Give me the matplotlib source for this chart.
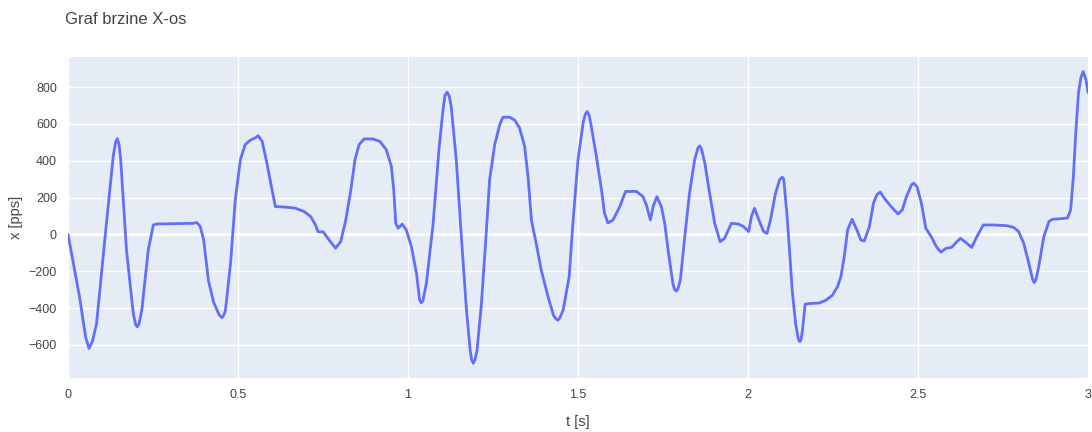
import matplotlib
matplotlib.use("Agg")
from matplotlib import pyplot as plt

plt.rcParams['font.family'] = ['Liberation Sans', 'DejaVu Sans']

# velocity samples (t in s, x in pps)
t = [0.000, 0.034, 0.052, 0.062, 0.072, 0.084, 0.113, 0.133, 0.140, 0.145,
     0.150, 0.155, 0.172, 0.192, 0.199, 0.204, 0.209, 0.217, 0.236, 0.251,
     0.261, 0.369, 0.379, 0.389, 0.399, 0.413, 0.428, 0.443, 0.448, 0.453,
     0.458, 0.463, 0.478, 0.492, 0.507, 0.521, 0.536, 0.551, 0.559, 0.571,
     0.585, 0.600, 0.610, 0.645, 0.669, 0.694, 0.714, 0.728, 0.735, 0.751,
     0.768, 0.787, 0.802, 0.817, 0.832, 0.844, 0.856, 0.871, 0.897, 0.917,
     0.936, 0.951, 0.958, 0.964, 0.971, 0.983, 0.995, 1.010, 1.025, 1.034,
     1.039, 1.044, 1.054, 1.074, 1.091, 1.103, 1.109, 1.115, 1.121, 1.127,
     1.142, 1.157, 1.172, 1.183, 1.187, 1.192, 1.197, 1.203, 1.216, 1.230,
     1.240, 1.255, 1.270, 1.279, 1.299, 1.314, 1.328, 1.343, 1.353, 1.363,
     1.377, 1.392, 1.412, 1.428, 1.436, 1.441, 1.446, 1.456, 1.474, 1.485,
     1.500, 1.515, 1.521, 1.527, 1.533, 1.539, 1.554, 1.569, 1.578, 1.588,
     1.603, 1.623, 1.640, 1.672, 1.691, 1.701, 1.713, 1.721, 1.732, 1.745,
     1.755, 1.765, 1.779, 1.784, 1.789, 1.794, 1.801, 1.814, 1.828, 1.843,
     1.853, 1.858, 1.863, 1.873, 1.887, 1.902, 1.918, 1.931, 1.951, 1.972,
     1.987, 2.002, 2.010, 2.019, 2.032, 2.046, 2.056, 2.066, 2.081, 2.093,
     2.097, 2.101, 2.105, 2.108, 2.115, 2.122, 2.130, 2.140, 2.148, 2.150,
     2.153, 2.156, 2.160, 2.168, 2.179, 2.209, 2.229, 2.248, 2.263, 2.273,
     2.283, 2.293, 2.306, 2.318, 2.332, 2.342, 2.357, 2.369, 2.379, 2.389,
     2.401, 2.421, 2.441, 2.454, 2.466, 2.481, 2.487, 2.497, 2.510, 2.523,
     2.539, 2.554, 2.567, 2.582, 2.599, 2.614, 2.625, 2.638, 2.658, 2.673,
     2.692, 2.722, 2.761, 2.781, 2.796, 2.811, 2.826, 2.837, 2.842, 2.847,
     2.855, 2.870, 2.885, 2.895, 2.920, 2.940, 2.949, 2.957, 2.964, 2.972,
     2.979, 2.986, 2.994, 3.000]
x = [0, -340, -560, -620, -580, -485, 60, 424, 500, 520,
     490, 405, -85, -430, -490, -502, -485, -413, -85, 51,
     56, 60, 64, 42, -30, -250, -367, -431, -445, -452,
     -440, -413, -158, 187, 405, 487, 511, 524, 536, 505,
     387, 242, 151, 147, 142, 124, 96, 51, 15, 13,
     -31, -75, -40, 78, 242, 405, 487, 518, 518, 505,
     460, 369, 242, 60, 33, 56, 24, -67, -213, -355,
     -372, -360, -267, 60, 460, 678, 755, 772, 752, 696,
     405, -13, -413, -631, -680, -700, -682, -631, -376, 5,
     296, 487, 596, 636, 636, 620, 578, 478, 315, 78,
     -49, -195, -340, -440, -460, -466, -455, -413, -231, 60,
     405, 605, 650, 667, 645, 587, 424, 242, 115, 62,
     78, 151, 233, 233, 205, 160, 78, 151, 205, 151,
     60, -85, -267, -300, -308, -295, -249, -13, 224, 405,
     470, 480, 465, 387, 224, 60, -40, -22, 60, 56,
     42, 15, 96, 142, 78, 15, 5, 78, 224, 296,
     305, 310, 300, 242, 96, -85, -304, -485, -567, -578,
     -582, -572, -522, -380, -376, -373, -358, -331, -285, -231,
     -122, 24, 82, 33, -31, -36, 42, 169, 215, 230,
     196, 151, 111, 133, 205, 269, 278, 260, 169, 33,
     -13, -67, -97, -76, -71, -40, -22, -40, -71, -13,
     51, 51, 47, 38, 15, -49, -158, -245, -262, -245,
     -176, -13, 69, 82, 85, 89, 133, 315, 551, 769,
     851, 884, 840, 770]

fig = plt.figure(figsize=(10.92, 4.32), dpi=100)
ax = fig.add_axes([68 / 1092, 1 - 378 / 432, 1020 / 1092, 321 / 432])
ax.set_facecolor('#E5ECF6')

ax.plot(t, x, color='#636EFA', lw=2, zorder=3,
        solid_joinstyle='round', solid_capstyle='round')

ax.set_xlim(0, 3)
ax.set_ylim(-780, 963)
ax.set_xticks([0, 0.5, 1, 1.5, 2, 2.5, 3])
ax.set_xticklabels(['0', '0.5', '1', '1.5', '2', '2.5', '3'])
ax.set_yticks(range(-600, 801, 200))
ax.grid(color='white', lw=1, zorder=0)
ax.axhline(0, color='white', lw=2.2, zorder=1)
ax.set_axisbelow(True)
for s in ax.spines.values():
    s.set_visible(False)
ax.tick_params(length=0, labelsize=9, colors='#444444', pad=8)

ax.set_xlabel('t [s]', fontsize=10.5, color='#444444', labelpad=10)
ax.set_ylabel('x [pps]', fontsize=10.5, color='#444444', labelpad=4)
fig.text(65 / 1092, 1 - 20 / 432, 'Graf brzine X-os', fontsize=12,
         color='#444444', va='center', ha='left')

fig.savefig('out.png', dpi=100)
